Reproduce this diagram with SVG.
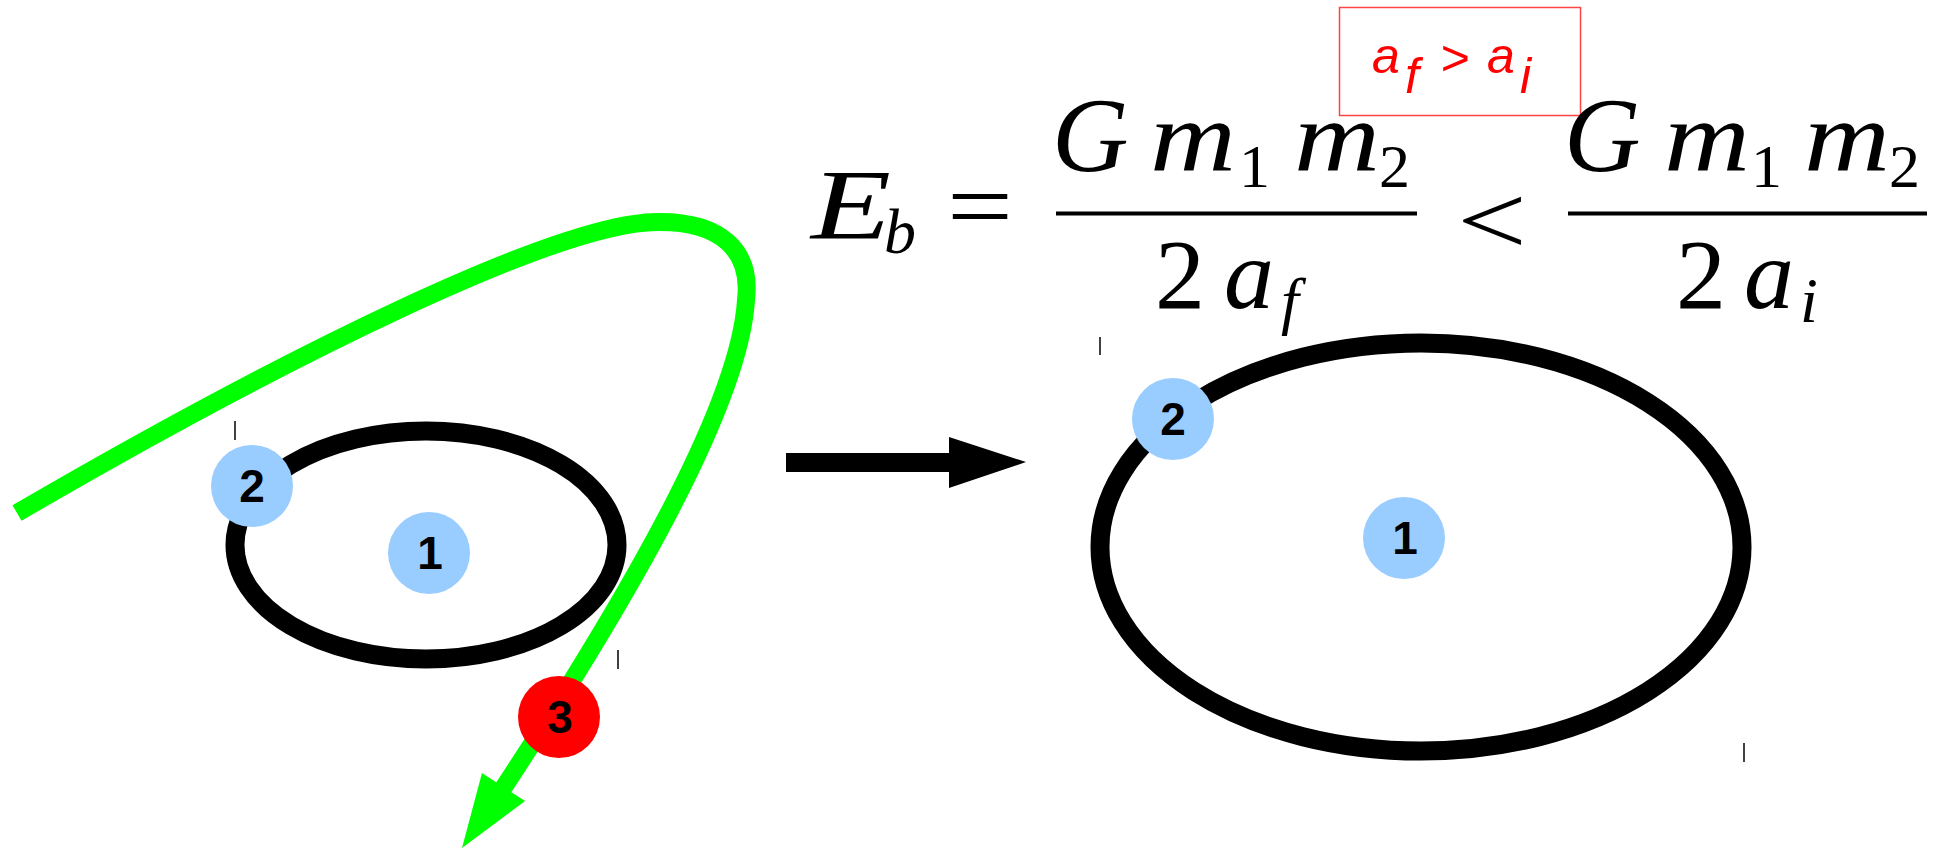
<svg xmlns="http://www.w3.org/2000/svg" width="1944" height="849" viewBox="0 0 1944 849">
<style>
.orbit{fill:none;stroke:#000;stroke-width:19}
.node{fill:#99ccff}
.red{fill:#ff0000}
.lbl{font-family:"Liberation Sans",Arial,sans-serif;font-weight:bold;font-size:46px;fill:#000;text-anchor:middle}
.m{font-family:"Liberation Serif","Times New Roman",serif;font-style:italic;font-size:100px;fill:#000}
.r{font-family:"Liberation Serif","Times New Roman",serif;font-size:100px;fill:#000}
.s{font-size:64px}
.g{font-size:106px}
.sr{font-family:"Liberation Serif","Times New Roman",serif;font-size:62px;fill:#000}
.rl{font-family:"Liberation Sans",Arial,sans-serif;font-style:italic;font-size:50px;fill:#ff0000}
.bar{stroke:#000;stroke-width:4}
.tick{stroke:#000;stroke-width:1.5}
</style>
<rect width="1944" height="849" fill="#fff"/>
<g id="orbit-small"><ellipse class="orbit" cx="426" cy="545" rx="191" ry="114"/></g>
<g id="orbit-large"><ellipse class="orbit" cx="1421" cy="547" rx="321" ry="204"/></g>
<g id="connectors">
<path d="M17,513 C280,360 560,220 660,222 C720,222 752,250 746,300 C740,400 640,580 502,790" fill="none" stroke="#00ff00" stroke-width="18"/>
<polygon points="482,773 525,801 462,848" fill="#00ff00"/>
<rect x="786" y="453" width="164" height="19" fill="#000"/>
<polygon points="949,437 949,488 1026,462" fill="#000"/>
</g>
<g id="ticks">
<line class="tick" x1="235" y1="421" x2="235" y2="440"/>
<line class="tick" x1="618" y1="650" x2="618" y2="669"/>
<line class="tick" x1="1100" y1="337" x2="1100" y2="355"/>
<line class="tick" x1="1744" y1="743" x2="1744" y2="762"/>
</g>
<g id="node-1-left"><circle class="node" cx="429" cy="553" r="41"/><text class="lbl" x="430" y="569">1</text></g>
<g id="node-2-left"><circle class="node" cx="252" cy="486" r="41"/><text class="lbl" x="252" y="502">2</text></g>
<g id="node-3"><circle class="red" cx="559" cy="717" r="41"/><text class="lbl" x="560" y="733">3</text></g>
<g id="node-1-right"><circle class="node" cx="1404" cy="538" r="41"/><text class="lbl" x="1405" y="554">1</text></g>
<g id="node-2-right"><circle class="node" cx="1173" cy="419" r="41"/><text class="lbl" x="1173" y="435">2</text></g>
<g id="label-box">
<rect x="1339.5" y="7.5" width="241" height="108" fill="none" stroke="#ff4444" stroke-width="1.5"/>
<text class="rl" x="1372" y="73">a</text>
<text class="rl" x="1405" y="93" font-size="42">f</text>
<text class="rl" x="1440" y="75" font-style="normal">&gt;</text>
<text class="rl" x="1487" y="73">a</text>
<text class="rl" x="1520" y="93" font-size="42">i</text>
</g>
<g id="equation">
<text class="m" x="811" y="238" textLength="80" lengthAdjust="spacingAndGlyphs">E</text>
<text class="m s" x="884" y="253">b</text>
<text class="r" x="947" y="240" textLength="66" lengthAdjust="spacingAndGlyphs">=</text>
<text class="m g" x="1052" y="171">G</text>
<text class="m" x="1150" y="170" textLength="86" lengthAdjust="spacingAndGlyphs">m</text>
<text class="sr" x="1239" y="187">1</text>
<text class="m" x="1294" y="170" textLength="86" lengthAdjust="spacingAndGlyphs">m</text>
<text class="sr" x="1379" y="187">2</text>
<line class="bar" x1="1056" y1="213.5" x2="1417" y2="213.5"/>
<text class="r" x="1155" y="308">2</text>
<text class="m" x="1224" y="308">a</text>
<text class="m s" x="1281" y="322">f</text>
<text class="r" x="1457" y="254" font-size="145" textLength="70" lengthAdjust="spacingAndGlyphs">&lt;</text>
<text class="m g" x="1564" y="171">G</text>
<text class="m" x="1664" y="170" textLength="86" lengthAdjust="spacingAndGlyphs">m</text>
<text class="sr" x="1751" y="187">1</text>
<text class="m" x="1804" y="170" textLength="86" lengthAdjust="spacingAndGlyphs">m</text>
<text class="sr" x="1889" y="187">2</text>
<line class="bar" x1="1568" y1="213.5" x2="1927" y2="213.5"/>
<text class="r" x="1676" y="308">2</text>
<text class="m" x="1744" y="308">a</text>
<text class="m s" x="1800" y="322">i</text>
</g>
</svg>
